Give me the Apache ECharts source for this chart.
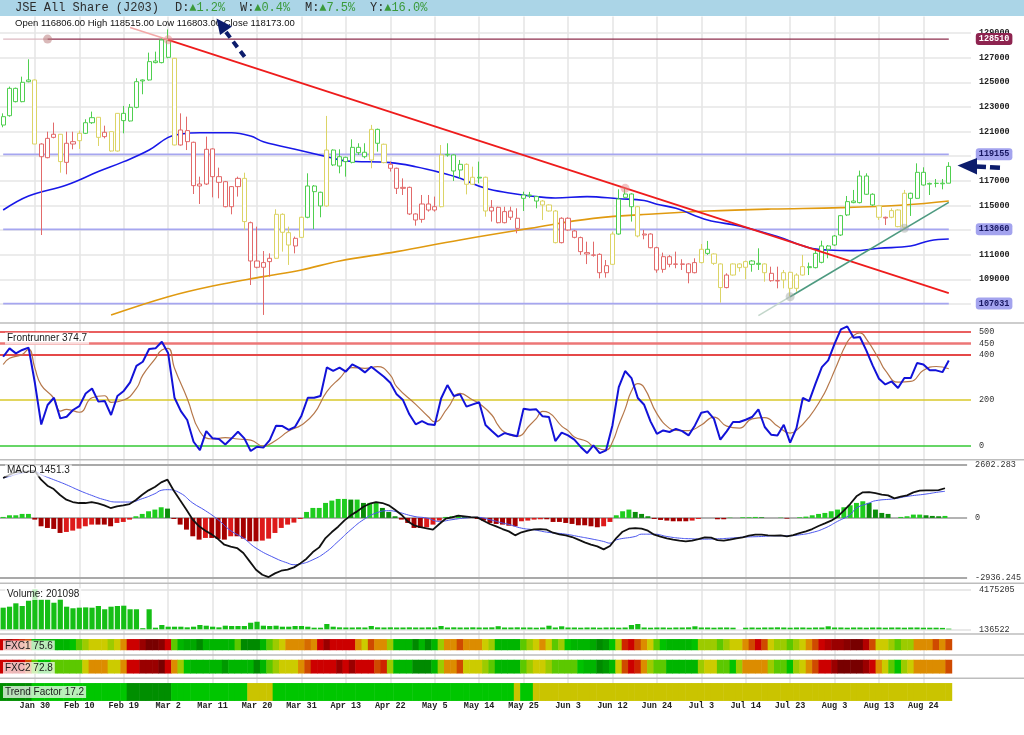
<!DOCTYPE html>
<html>
<head>
<meta charset="utf-8">
<title>JSE All Share (J203)</title>
<script src="https://cdn.jsdelivr.net/npm/echarts@6/dist/echarts.min.js"></script>
<style>
html, body { margin: 0; padding: 0; background: #fff; }
#main { width: 1024px; height: 735px; }
</style>
</head>
<body>
<div id="main"></div>
<script>
// ---- data ----
var tickLabels = ['Jan 30','Feb 10','Feb 19','Mar 2','Mar 11','Mar 20','Mar 31','Apr 13','Apr 22','May 5',
  'May 14','May 25','Jun 3','Jun 12','Jun 24','Jul 3','Jul 14','Jul 23','Aug 3','Aug 13','Aug 24'];
var tickStart = 5, tickStep = 7, slotCount = 153;

// [open, close, low, high]
var candles = [
  [121530,122210,121350,122480],[122290,124510,122210,124650],[124510,123430,123370,124570],[123430,125000,123380,125460],[125190,125050,125000,126870],
  [125190,119990,119990,125240],[119990,118960,112600,120050],[118880,120450,118830,120990],[120530,120780,120450,121730],[120780,118560,117660,120790],
  [118500,120050,117530,120990],[119990,120180,119560,120990],[120260,120860,119590,121080],[120860,121720,120800,122000],[121720,122130,121620,122620],
  [122160,120530,119830,122170],[120590,120940,120450,121480],[120990,119420,119370,121000],[119420,122480,119370,122490],[122480,121890,120860,123080],
  [121860,122970,121810,123240],[122970,125050,122890,125330],[125110,125190,124030,125240],[125190,126680,125140,127410],[126730,126600,126540,127490],
  [126600,128440,126540,128650],[128380,127030,126950,129300],[126950,119910,119880,126980],[119910,121130,119860,122480],[121080,120180,119500,122210],
  [120130,116610,115930,120180],[116580,116740,115120,117340],[116740,119560,116660,120590],[119590,117340,115660,119640],[117340,116880,115580,118070],
  [116930,114900,114850,116990],[114900,116530,114280,116580],[116530,117200,115720,117340],[117200,113690,113010,117660],[113600,110490,108540,113690],
  [110490,109980,109890,113280],[109980,110360,106110,111300],[110440,110710,109220,111110],[110710,114280,110650,114690],[114280,112820,111250,114360],
  [112790,111790,110170,113280],[111710,112330,111110,112470],[112410,114040,112360,114090],[114040,116580,113960,117610],[116580,116120,113090,116660],
  [116070,114960,114040,116120],[114960,119500,114900,122270],[119500,118290,118200,119560],[118200,118960,117610,119560],[118910,118560,117340,118960],
  [118500,119720,118420,120370],[119720,119290,119100,120050],[119320,118960,118830,120050],[118690,121180,118020,121540],[121180,120050,119370,121240],
  [119970,118480,118420,120020],[118340,118020,117750,118560],[118020,116390,115930,118070],[116470,116390,115850,117200],[116470,114310,114230,116530],
  [114310,113820,113360,114360],[113870,115120,113600,115850],[115120,114630,114500,115850],[114630,114900,114500,115720],[114900,119100,114850,119910],
  [119100,119150,118960,120050],[119100,117800,116990,119150],[117880,118340,117200,118690],[118340,116720,115900,118420],[116720,117290,116660,118150],
  [117290,117230,116800,118560],[117290,114550,114090,117340],[114550,114850,113690,115440],[114850,113600,113550,114900],[113600,114500,113550,114900],
  [114550,114040,113820,114900],[113960,113140,112740,114770],[115580,115850,114550,116120],[115850,115800,115600,116100],[115720,115360,114770,115770],
  [115360,115040,113820,115440],[115040,114550,114500,115090],[114550,111980,111920,114630],[111980,113960,111920,114040],[113960,113010,112950,114040],
  [112930,112410,112330,113010],[112390,111250,110980,112470],[111170,111060,110240,112060],[110980,110960,110840,112060],[111030,109540,109080,111110],
  [109540,110110,109140,110570],[110220,112680,110170,112870],[112680,115520,112630,116310],[115660,115930,115580,116390],[115930,114900,113690,115990],
  [114900,112520,112410,114960],[112600,112680,112250,113010],[112680,111570,111520,112740],[111570,109760,109540,111650],[109810,110840,109540,111170],
  [110840,110220,109980,110980],[110220,110250,109900,111250],[110250,110220,109760,110630],[110250,109540,108680,110300],[109540,110360,109490,110710],
  [110360,111440,110300,111870],[111440,111110,110980,112120],[111060,110300,110170,111110],[110250,108330,107110,110300],[108330,109350,108270,109490],
  [109350,110250,109300,110300],[110250,109950,109620,110300],[109980,110440,109000,110520],[110490,110220,109620,110570],[110220,110300,109760,111520],
  [110250,109540,108810,110300],[109490,108890,108810,110030],[108900,108870,108270,110030],[108950,109540,108270,109760],[109570,108270,107590,109620],
  [108270,109350,108000,109490],[109350,110030,109300,110980],[110030,109950,109350,110360],[109950,111110,109890,111380],[110380,111710,110300,112140],
  [111710,111440,110710,111790],[111790,112520,111710,112600],[112600,114170,112520,114230],[114230,115310,114140,115770],[115360,115230,115180,116260],
  [115230,117390,115170,117830],[117390,115910,115850,117610],[115910,115040,114960,115990],[114960,114040,113820,115040],[113980,114040,113410,114090],
  [114040,114580,113960,114770],[114630,113280,113230,114690],[113230,115990,113150,116260],[115990,115580,114150,116040],[115580,117690,115530,118420],
  [117690,116660,116610,118100],[116730,116790,115850,116860],[116790,116800,116470,117150],[116760,116810,116310,117150],[116806,118173,116803,118515]
];

// trend state per candle: 1 green, 0 yellow, -1 red
var trendState = [
  1,1,1,1,1,0,-1,-1,-1,0, -1,-1,0,1,1,0,-1,0,0,1, 1,1,1,1,1,1,1,0,-1,-1, -1,-1,-1,-1,-1,-1,-1,-1,0,-1,
  -1,-1,-1,0,0,0,-1,0,1,1, 1,0,1,1,1,1,1,1,0,1, 0,-1,-1,-1,-1,-1,-1,-1,-1,0, 1,1,1,0,0,1,0,-1,-1,-1,
  -1,-1,1,1,1,0,0,0,-1,-1, -1,-1,-1,-1,-1,-1,0,1,1,1, 0,-1,-1,-1,-1,-1,-1,-1,-1,-1, 0,1,0,0,-1,0,0,0,1,1,
  0,-1,-1,0,0,0,0,1,1,1, 1,1,1,1,1,1,1,1,0,-1, 0,0,0,1,1,1,1,1,1,1
];

var priceTicks = [107000,109000,111000,113000,115000,117000,119000,121000,123000,125000,127000,129000];
var levels = [128510, 119155, 113060, 107031];
var levelFrom = [7, 0, 0, 0];

// moving averages as [candle, value]
var maBlue = [[0,114630],[4,115770],[10,116660],[15,117750],[19,118560],[23,119500],[26,120530],[28,120800],[31,120910],
  [36,120910],[39,120640],[41,120180],[47,119450],[52,118830],[54,118610],[61,118480],[65,118150],[69,117660],[72,117200],
  [76,116390],[80,115990],[83,115770],[87,115610],[92,115720],[97,115550],[101,115400],[103,115100],[106,114770],[111,113820],
  [116,113330],[122,112470],[127,111570],[130,111380],[134,111330],[138,111520],[143,111710],[146,112140],[149,112270]];
var maOrange = [[17,106100],[26,107590],[33,108460],[41,109220],[47,109760],[53,110490],[62,111250],[72,112200],[83,113140],
  [93,113950],[103,114330],[111,114550],[121,114710],[132,114820],[142,115040],[149,115360]];

// trend lines [candle, value]
var redTrendLead = [[20,129450],[26,128450]];
var redTrend = [[26,128450],[149,107880]];
var greenTrendLead = [[119,106060],[124,107590]];
var greenTrend = [[124,107590],[149,115250]];
var redAnchors = [[26,128450],[98,116390]];
var levelAnchors = [[7,128510]];
var greenAnchors = [[124,107590],[142,113150]];

// Frontrunner
var frontrunner = [
  391,428,406,421,431,275,92,178,210,119, 126,156,173,229,251,193,196,134,218,240,
  278,351,369,425,428,457,406,210,151,112, 16,-21,63,31,28,4,31,60,31,-25,
  -6,-10,23,87,85,68,82,131,210,210, 218,344,329,343,325,357,343,322,347,325,
  303,276,225,200,137,93,107,93,90,207, 266,218,225,171,181,190,90,63,38,54,
  47,40,162,157,159,128,125,19,56,44, 25,-7,-34,0,-34,-22,88,257,328,297,
  209,179,106,51,66,59,73,63,44,88, 144,150,117,25,62,103,103,113,125,159,
  81,47,44,91,12,76,209,195,272,345, 375,448,512,525,475,478,419,353,294,269,
  282,253,297,297,363,357,331,331,323,374.7
];
var frontrunnerSignal = [[0,357],[1,384],[3,401],[4,425],[5,340],[6,266],[8,207],[9,151],[10,159],[12,146],[14,210],[16,219],
  [17,190],[19,200],[21,251],[22,310],[24,384],[25,421],[26,428],[27,340],[29,207],[31,60],[33,28],[35,34],[37,28],[39,23],
  [41,-3],[43,23],[45,63],[47,90],[49,141],[51,237],[53,295],[55,343],[57,340],[59,347],[61,310],[62,259],[65,181],[67,126],
  [68,104],[70,163],[72,229],[74,200],[75,185],[77,134],[78,88],[79,59],[81,40],[83,90],[84,118],[85,150],[86,144],[88,85],
  [89,65],[90,37],[92,17],[93,-5],[95,-20],[96,15],[97,90],[98,160],[99,240],[100,272],[101,255],[103,140],[105,75],[106,66],
  [108,65],[110,90],[112,125],[114,85],[116,76],[118,117],[120,122],[122,85],[124,54],[125,66],[127,125],[129,210],[130,265],
  [131,330],[133,456],[134,485],[135,496],[136,470],[138,380],[139,331],[141,279],[143,282],[145,331],[147,348],[149,338]];
var frontrunnerLevels = [500, 450, 400, 200, 0];

// MACD
var macdMin = -2936.245, macdMax = 2602.283;
var macdLine = [
  1951,2114,2245,2260,2277,2310,1870,1576,1413,1120, 892,778,729,729,778,712,615,484,566,615,
  680,875,1136,1348,1511,1739,1870,1332,859,403, -86,-412,-624,-804,-1032,-1309,-1407,-1472,-1716,-2124,
  -2531,-2776,-2890,-2711,-2581,-2531,-2417,-2222,-1994,-1668, -1439,-983,-689,-429,-119,126,321,549,696,778,
  729,615,403,158,-168,-363,-445,-510,-575,-298, -37,28,109,77,44,28,-135,-298,-412,-543,
  -657,-852,-700,-624,-559,-543,-575,-722,-804,-852, -934,-1064,-1195,-1309,-1390,-1537,-1374,-983,-673,-527,
  -494,-527,-624,-820,-918,-999,-1064,-1113,-1146,-1113, -1032,-950,-967,-1081,-1113,-1064,-999,-950,-869,-820,
  -820,-852,-869,-852,-901,-836,-738,-657,-543,-396, -266,-135,60,354,680,1055,1250,1266,1218,1136,
  1103,957,1038,1103,1250,1332,1348,1348,1360,1451.3
];
var macdSignal = [[0,1951],[1,2033],[3,2195],[5,2260],[6,2114],[8,1870],[10,1625],[12,1348],[14,1103],[16,892],[18,778],
  [20,778],[22,941],[24,1185],[25,1348],[26,1381],[28,1218],[30,729],[32,354],[34,-86],[36,-624],[38,-983],[40,-1472],
  [43,-1961],[45,-2205],[46,-2287],[47,-2254],[49,-2043],[51,-1684],[53,-1146],[55,-575],[57,-86],[59,240],[61,354],
  [62,321],[65,77],[67,-5],[69,-168],[71,-86],[73,-5],[75,28],[77,-86],[79,-249],[80,-315],[82,-499],[84,-581],[86,-695],
  [89,-793],[91,-907],[93,-1021],[95,-1151],[96,-1233],[97,-1070],[100,-907],[101,-793],[103,-793],[105,-907],[107,-988],
  [109,-1021],[111,-1037],[113,-1021],[115,-988],[117,-940],[120,-907],[122,-874],[124,-874],[126,-826],[128,-712],
  [130,-499],[132,-168],[134,158],[135,484],[137,728],[138,842],[141,940],[143,1054],[146,1168],[148,1266],[149,1299]];
var macdHist = [
  49,130,130,196,196,-82,-408,-489,-538,-734, -685,-619,-522,-408,-326,-326,-326,-408,-245,-196,
  -82,82,196,326,408,522,456,-49,-326,-571, -897,-1060,-978,-978,-1027,-1060,-897,-897,-1011,-1141,
  -1141,-1108,-1011,-734,-489,-326,-228,-50,293,489, 489,734,848,929,929,897,897,734,734,782,
  489,293,82,-82,-245,-489,-489,-456,-326,-130, 49,82,130,49,16,-49,-130,-245,-293,-326,
  -380,-408,-163,-130,-82,-65,-65,-196,-196,-245, -293,-359,-359,-408,-456,-408,-196,130,326,408,
  293,196,82,-49,-98,-130,-163,-163,-163,-130, -49,0,0,-65,-65,16,0,33,33,49,
  33,0,0,16,-33,0,33,65,130,196, 245,326,408,522,619,734,815,734,408,245,
  196,0,49,82,163,163,130,98,82,98
];

// Volume
var volMin = 136522, volMax = 4175205;
var volume = [
  2320000,2420000,2760000,2490000,3020000,4175205,3160000,3160000,2820000,3200000,
  2420000,2260000,2320000,2350000,2320000,2490000,2160000,2420000,2490000,2520000,
  2160000,2160000,250000,2160000,300000,570000,400000,400000,400000,335000,
  400000,570000,500000,400000,335000,500000,470000,470000,470000,800000,
  900000,500000,470000,500000,400000,400000,470000,470000,400000,300000,
  300000,670000,400000,335000,320000,320000,335000,320000,470000,335000,
  320000,335000,320000,320000,335000,320000,320000,335000,320000,470000,
  320000,335000,320000,320000,335000,320000,320000,335000,450000,320000,
  320000,335000,320000,320000,300000,320000,500000,320000,440000,320000,
  320000,300000,320000,320000,300000,320000,320000,300000,320000,570000,
  670000,320000,300000,320000,320000,300000,320000,320000,335000,440000,
  320000,320000,300000,320000,320000,300000,136522,300000,320000,300000,
  320000,320000,335000,320000,300000,320000,320000,300000,320000,320000,
  440000,320000,320000,300000,320000,320000,300000,320000,320000,300000,
  320000,320000,300000,320000,320000,300000,300000,300000,280000,201098
];

// colour-band scores (0 = deep green ... 100 = deep red)
var fxc1 = [
  80,90,80,75,70,15,15,15,15,15, 15,20,30,40,50,50,50,40,50,60, 80,80,90,100,100,95,80,30,15,10,
  10,0,15,15,15,15,15,30,0,0, 0,15,30,40,50,60,60,60,65,60, 80,90,80,80,80,80,60,50,70,60,
  60,40,15,15,15,0,15,0,15,40, 60,60,70,60,60,60,50,40,15,15, 15,15,30,40,50,60,50,30,40,20,
  15,15,15,10,0,5,20,45,75,80, 70,60,50,30,20,15,15,15,15,20, 40,40,40,30,40,50,50,60,70,80,
  70,50,40,40,30,40,50,60,70,80, 85,90,90,95,100,100,85,70,50,50, 40,30,40,40,60,60,60,70,60,70
];
var fxc2 = [
  80,80,85,80,70,30,20,20,30,30, 30,30,30,50,60,60,60,50,50,60, 80,80,90,90,90,100,80,60,40,20,
  15,15,15,15,15,5,15,15,15,15, 0,15,30,40,50,50,50,60,70,80, 80,80,80,90,80,90,80,80,80,70,
  75,40,15,15,15,0,0,0,15,40, 60,60,70,50,50,50,40,30,15,15, 15,15,30,40,50,50,40,30,30,30,
  30,20,15,15,0,5,15,50,70,80, 75,60,40,30,30,15,15,15,15,15, 40,50,50,30,30,20,40,60,60,60,
  60,40,30,30,20,40,50,60,70,80, 80,90,100,100,100,100,90,80,60,50, 30,20,40,50,60,60,60,60,60,70
];
var trendFactor = [
  80,80,80,80,80,60,60,60,60,60, 60,60,60,60,60,60,60,60,60,60, 80,80,80,80,80,80,80,60,60,60,
  60,60,60,60,60,60,60,60,60,17, 17,17,17,60,60,60,60,60,60,60, 60,60,60,60,60,60,60,60,60,60,
  60,60,60,60,60,60,60,60,60,60, 60,60,60,60,60,60,60,60,60,60, 60,17,60,60,17,17,17,17,17,17,
  17,17,17,17,17,17,17,17,17,17, 17,17,17,17,17,17,17,17,17,17, 17,17,17,17,17,17,17,17,17,17,
  17,17,17,17,17,17,17,17,17,17, 17,17,17,17,17,17,17,17,17,17, 17,17,17,17,17,17,17,17,17,17
];

// ---- chart ----
var chart = echarts.init(document.getElementById('main'));

var slots = [];
for (var s = 0; s < slotCount; s++) slots.push(String(s));
var tickIdx = tickLabels.map(function (t, k) { return tickStart + k * tickStep; });
function isTick(index) { return index >= tickStart && (index - tickStart) % tickStep === 0; }

var mono = 'Liberation Mono, DejaVu Sans Mono, monospace';
var sans = 'Liberation Sans, Arial, sans-serif';
var axisFont = { fontFamily: mono, fontSize: 8.5, fontWeight: 'bold', color: '#222' };

var W = 971;
var grids = [
  { left: 0, width: W, top: 26.9, height: 301.7 },  // price
  { left: 0, width: W, top: 320.7, height: 136 },   // frontrunner
  { left: 0, width: W, top: 464.7, height: 113.3 }, // macd
  { left: 0, width: W, top: 589.3, height: 40 },    // volume
  { left: 0, width: W, top: 639.3, height: 10.7 },  // fxc1
  { left: 0, width: W, top: 660, height: 13.3 },    // fxc2
  { left: 0, width: W, top: 683.3, height: 17.4 },  // trend factor
  { left: 0, width: W, top: 16.5, height: 684.2 }   // background grid
];

var xAxes = grids.map(function (g, gi) {
  return {
    type: 'category', gridIndex: gi, data: slots, boundaryGap: true,
    axisLine: { show: false }, axisTick: { show: false }, splitLine: { show: false },
    axisLabel: gi === 6 ? {
      show: true, interval: function (index) { return isTick(index); },
      formatter: function (v, index) { return tickLabels[(index - tickStart) / tickStep]; },
      margin: 1, fontFamily: mono, fontSize: 8.5, fontWeight: 'bold', color: '#222'
    } : { show: false }
  };
});

function onlyLabels(map) {
  return function (v) { return map.hasOwnProperty(String(v)) ? map[String(v)] : ''; };
}
var macdLabelMap = {}; macdLabelMap[String(macdMin)] = '-2936.245'; macdLabelMap['0'] = '0'; macdLabelMap[String(macdMax)] = '2602.283';
var volLabelMap = {}; volLabelMap[String(volMin)] = String(volMin); volLabelMap[String(volMax)] = String(volMax);
var frLabelMap = {}; frontrunnerLevels.forEach(function (v) { frLabelMap[String(v)] = String(v); });

function valueAxis(gi, extra) {
  var a = {
    type: 'value', gridIndex: gi, position: 'right', scale: true,
    axisLine: { show: false }, axisTick: { show: false }, splitLine: { show: false },
    axisLabel: echarts.util.extend({ margin: 8 }, axisFont)
  };
  return echarts.util.merge(a, extra, true);
}
function stripAxis(gi) {
  return { type: 'category', gridIndex: gi, data: ['row'], show: false };
}

var yAxes = [
  valueAxis(0, { min: 105000, max: 129500, interval: 2000,
    axisLabel: { showMinLabel: false, showMaxLabel: false, formatter: function (v) { return String(v); } } }),
  valueAxis(1, { min: -50, max: 550, interval: 50, axisLabel: { formatter: onlyLabels(frLabelMap), fontWeight: 'normal', color: '#333' } }),
  valueAxis(2, { min: macdMin, max: macdMax, axisLabel: { formatter: onlyLabels(macdLabelMap), fontWeight: 'normal', color: '#333' } }),
  valueAxis(3, { min: volMin, max: volMax, axisLabel: { formatter: onlyLabels(volLabelMap), fontWeight: 'normal', color: '#333' } }),
  stripAxis(4), stripAxis(5), stripAxis(6),
  { type: 'value', gridIndex: 7, min: 0, max: 1, show: false }
];

function hLines(gi, values, style, z) {
  return {
    type: 'line', xAxisIndex: gi, yAxisIndex: gi, data: [], silent: true,
    markLine: {
      silent: true, symbol: 'none', z: z == null ? 1 : z, animation: false, label: { show: false },
      lineStyle: echarts.util.extend({ type: 'solid' }, style),
      data: values.map(function (v) { return { yAxis: v }; })
    }
  };
}
function pathLine(gi, data, color, width, z, smooth) {
  return {
    type: 'line', xAxisIndex: gi, yAxisIndex: gi, data: data, symbol: 'none', silent: true,
    smooth: smooth || false, clip: false, z: z || 3,
    lineStyle: { color: color, width: width }
  };
}

var candleColors = {
  '1': { solid: '#00b400', hollow: '#4fcf4f' },
  '0': { solid: '#c6be00', hollow: '#dcd466' },
  '-1': { solid: '#cc0000', hollow: '#e26a6a' }
};

var series = [];

// vertical grid lines behind everything
series.push({
  type: 'line', xAxisIndex: 7, yAxisIndex: 7, data: [], silent: true,
  markLine: {
    silent: true, symbol: 'none', z: 0, animation: false, label: { show: false },
    lineStyle: { color: '#e4e4e4', width: 1.5, type: 'solid' },
    data: tickIdx.map(function (i) { return { xAxis: i }; })
  }
});

// price panel
series.push(hLines(0, priceTicks, { color: '#e6e6e6', width: 1.5 }));
levels.forEach(function (lv, k) {
  var main = k === 0 ? '#8e2f4e' : '#a6a6f0';
  if (levelFrom[k] > 0) {
    series.push(pathLine(0, [[0, lv], [levelFrom[k], lv]], '#dcb8c0', 1.2, 2));
  }
  var ln = pathLine(0, [[levelFrom[k], lv], [149, lv]], main, k === 0 ? 1.2 : 1.8, 2);
  ln.endLabel = {
    show: true, distance: 27, formatter: String(lv),
    fontFamily: mono, fontSize: 8.5, fontWeight: 'bold',
    color: k === 0 ? '#ffffff' : '#161660',
    backgroundColor: k === 0 ? '#8e2450' : '#a3a3ee',
    padding: [2, 3, 1, 3], borderRadius: 3
  };
  series.push(ln);
});
series.push(pathLine(0, maOrange, '#e09a10', 1.6, 3, 0.4));
series.push(pathLine(0, maBlue, '#1818e8', 1.6, 3, 0.4));
series.push({
  type: 'candlestick', xAxisIndex: 0, yAxisIndex: 0, barWidth: 4.6, clip: false, z: 4, silent: true,
  data: candles.map(function (c, i) {
    var p = candleColors[String(trendState[i])];
    return { value: c, itemStyle: { color: '#ffffff', color0: p.solid, borderColor: p.hollow, borderColor0: p.solid, borderWidth: 1 } };
  })
});
series.push(pathLine(0, redTrendLead, '#f3a8a8', 1.5, 5));
series.push(pathLine(0, redTrend, '#ee1c1c', 1.8, 5));
series.push(pathLine(0, greenTrendLead, '#c2d6ca', 1.5, 5));
series.push(pathLine(0, greenTrend, '#4d9a80', 1.6, 5));
series.push({ type: 'scatter', xAxisIndex: 0, yAxisIndex: 0, data: redAnchors, symbolSize: 9, z: 6, silent: true,
  itemStyle: { color: 'rgba(232,130,130,0.6)' } });
series.push({ type: 'scatter', xAxisIndex: 0, yAxisIndex: 0, data: levelAnchors, symbolSize: 9, z: 6, silent: true,
  itemStyle: { color: 'rgba(185,120,120,0.65)' } });
series.push({ type: 'scatter', xAxisIndex: 0, yAxisIndex: 0, data: greenAnchors, symbolSize: 9, z: 6, silent: true,
  itemStyle: { color: 'rgba(160,170,165,0.6)' } });

// frontrunner panel
var frStyles = [
  { color: '#e22a2a', width: 1.5 }, { color: '#ec7676', width: 2.6 }, { color: '#e54848', width: 2 },
  { color: '#d9c82a', width: 1.5 }, { color: '#35c935', width: 1.5 }
];
frontrunnerLevels.forEach(function (v, k) { series.push(hLines(1, [v], frStyles[k])); });
series.push(pathLine(1, frontrunnerSignal, '#b5774a', 1.2, 3, 0.5));
series.push(pathLine(1, frontrunner.map(function (v, i) { return [i, v]; }), '#1212d8', 2, 4));

// macd panel
series.push(hLines(2, [macdMax, macdMin], { color: '#a9a9a9', width: 2 }));
series.push(hLines(2, [0], { color: '#9a9a9a', width: 1.5 }));
series.push({
  type: 'bar', xAxisIndex: 2, yAxisIndex: 2, data: macdHist, barWidth: '78%', silent: true, z: 2,
  itemStyle: {
    color: function (p) {
      var i = p.dataIndex, v = macdHist[i], prev = i > 0 ? macdHist[i - 1] : v;
      if (v >= 0) return v >= prev ? '#1fcc1f' : '#0b8d0b';
      return v <= prev ? '#a50000' : '#dd1a1a';
    }
  }
});
series.push(pathLine(2, macdSignal, '#4a55ee', 1, 3, 0.5));
series.push(pathLine(2, macdLine.map(function (v, i) { return [i, v]; }), '#111111', 1.8, 4));

// volume panel
series.push(hLines(3, [volMax, volMin], { color: '#e2e2e2', width: 1.5 }));
series.push({
  type: 'bar', xAxisIndex: 3, yAxisIndex: 3, data: volume, barWidth: '82%', silent: true, z: 2,
  itemStyle: { color: '#16bf16' }
});

// colour strips
function strip(gi, values) {
  return {
    type: 'heatmap', xAxisIndex: gi, yAxisIndex: gi, silent: true,
    data: values.map(function (v, i) { return [i, 0, v]; }),
    itemStyle: { borderWidth: 0 }
  };
}
var fxcSeries = [series.length, series.length + 1];
series.push(strip(4, fxc1));
series.push(strip(5, fxc2));
var trendSeries = series.length;
series.push(strip(6, trendFactor));

// ---- annotations ----
var graphic = [
  { type: 'rect', shape: { x: 0, y: 0, width: 1024, height: 16 }, style: { fill: '#abd5e7' }, z: 10 },
  { type: 'text', x: 15, y: 8, z: 11, style: { text: 'JSE All Share (J203)', font: '12px ' + mono, fill: '#2c2c2c', verticalAlign: 'middle' } }
];
var perf = [['D:', '▲1.2%', 175], ['W:', '▲0.4%', 240], ['M:', '▲7.5%', 305], ['Y:', '▲16.0%', 370]];
perf.forEach(function (p) {
  graphic.push({ type: 'text', x: p[2], y: 8, z: 11, style: { text: p[0], font: '12px ' + mono, fill: '#2c2c2c', verticalAlign: 'middle' } });
  graphic.push({ type: 'text', x: p[2] + 14.2, y: 8, z: 11, style: { text: p[1], font: '12px ' + mono, fill: '#3b9a3b', verticalAlign: 'middle' } });
});
graphic.push({ type: 'text', x: 15, y: 23, z: 11, style: {
  text: 'Open 116806.00 High 118515.00 Low 116803.00 Close 118173.00', font: '9.5px ' + sans, fill: '#111', verticalAlign: 'middle' } });

[323, 459.7, 583.3, 634, 655, 678.3].forEach(function (y) {
  graphic.push({ type: 'line', z: 9, shape: { x1: 0, y1: y, x2: 1024, y2: y }, style: { stroke: '#bdbdbd', lineWidth: 1.6 } });
});

var panelTags = [['Frontrunner 374.7', 5, 338.5], ['MACD 1451.3', 5, 470.5], ['Volume: 201098', 5, 594],
  ['FXC1 75.6', 3, 646.5], ['FXC2 72.8', 3, 668], ['Trend Factor 17.2', 3, 692]];
panelTags.forEach(function (t) {
  graphic.push({ type: 'text', x: t[1], y: t[2], z: 12, style: {
    text: t[0], font: '10px ' + sans, fill: '#1a1a1a', verticalAlign: 'middle',
    backgroundColor: 'rgba(255,255,255,0.72)', padding: [1, 2, 1, 2] } });
});

// dashed pointer arrows
var navy = '#0c1c6c';
graphic.push({ type: 'line', z: 20, shape: { x1: 226, y1: 32, x2: 247, y2: 60 }, style: { stroke: navy, lineWidth: 4, lineDash: [7, 5] } });
graphic.push({ type: 'polygon', z: 20, shape: { points: [[216.5, 18.5], [232, 26.5], [220, 35]] }, style: { fill: navy } });
graphic.push({ type: 'line', z: 20, shape: { x1: 976, y1: 166.5, x2: 1000, y2: 167.8 }, style: { stroke: navy, lineWidth: 4.5, lineDash: [10, 4] } });
graphic.push({ type: 'polygon', z: 20, shape: { points: [[957.5, 165.5], [977, 158], [977, 174.5]] }, style: { fill: navy } });

chart.setOption({
  animation: false,
  backgroundColor: '#ffffff',
  grid: grids,
  xAxis: xAxes,
  yAxis: yAxes,
  visualMap: [
    { type: 'continuous', show: false, seriesIndex: fxcSeries, dimension: 2, min: 0, max: 100,
      inRange: { color: ['#008a00', '#00a800', '#00c200', '#5cc800', '#9ccb00', '#cccb00', '#dc8c00', '#cf4a00', '#cc0000', '#9a0000', '#780000'] } },
    { type: 'piecewise', show: false, seriesIndex: trendSeries, dimension: 2,
      pieces: [{ lt: 30, color: '#cac400' }, { gte: 30, lt: 70, color: '#00c600' }, { gte: 70, color: '#008e00' }] }
  ],
  series: series,
  graphic: graphic
});
</script>
</body>
</html>
